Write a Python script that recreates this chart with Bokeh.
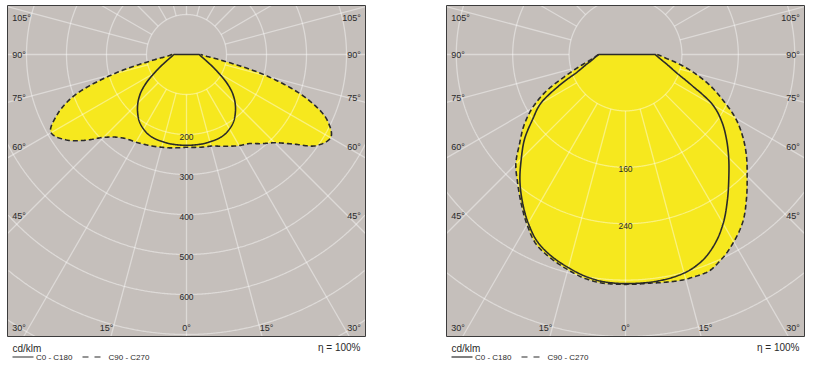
import numpy as np
from bokeh.plotting import figure
from bokeh.models import Range1d
from bokeh.embed import file_html
from bokeh.resources import INLINE
from bokeh.core.properties import value

# ---------------- data (cd/klm) ----------------
GAMMA = list(range(0, 95, 5))  # degrees from nadir

# Panel 1
P1_C0 = [227, 227, 227, 226, 225, 222, 215, 205, 190, 172, 150, 122, 93, 72, 57, 47, 40, 35, 32]
P1_C180 = [227, 227, 227, 226, 225, 222, 215, 205, 190, 172, 150, 122, 93, 72, 57, 47, 40, 35, 32]
P1_C90 = [232, 233, 235, 237, 244, 253, 263, 272, 291, 312, 348, 397, 416, 388, 318, 210, 96, 50, 35]
P1_C270 = [232, 234, 237, 240, 244, 248, 253, 258, 270, 293, 334, 371, 391, 357, 297, 189, 89, 48, 36]
P1_RING_STEP = 100
P1_RING_LABELS = [200, 300, 400, 500, 600]

# Panel 2
P2_C0 = [325, 325, 324, 321, 313, 298, 277, 252, 228, 207, 187, 167, 143, 104, 78, 64, 54, 47, 42]
P2_C180 = [325, 324, 320, 313, 305, 294, 276, 255, 233, 209, 187, 161, 139, 103, 73, 59, 49, 43, 38]
P2_C90 = [326, 326, 328, 330, 330, 321, 307, 290, 267, 244, 224, 203, 180, 152, 127, 101, 77, 57, 45]
P2_C270 = [326, 326, 323, 316, 308, 298, 279, 258, 238, 220, 196, 176, 153, 125, 92, 69, 53, 44, 38]
P2_RING_STEP = 80
P2_RING_LABELS = [160, 240]

ANGLE_TICKS_SIDE = [105, 90, 75, 60, 45, 30]
ANGLE_TICKS_BOTTOM = [15, 0]
UNIT = "cd/klm"
LEG_SOLID = "C0 - C180"
LEG_DASH = "C90 - C270"
ETA = "η = 100%"

# ---------------- style ----------------
GREY = "#c5bfbb"
YELLOW = "#f6e81e"
INK = "#2a2a2a"
FONT = value("Liberation Sans")

W, H = 813, 369
p = figure(width=W, height=H, x_range=Range1d(0, W), y_range=Range1d(H, 0),
           output_backend="svg", toolbar_location=None, min_border=0,
           x_axis_location=None, y_axis_location=None)
p.grid.visible = False
p.outline_line_color = None
p.background_fill_color = "white"
p.border_fill_color = "white"


def pchip(x, y, xn):
    x = np.asarray(x, float); y = np.asarray(y, float)
    h = np.diff(x); delta = np.diff(y) / h
    n = len(x); d = np.zeros(n)
    for k in range(1, n - 1):
        if delta[k - 1] * delta[k] > 0:
            w1 = 2 * h[k] + h[k - 1]; w2 = h[k] + 2 * h[k - 1]
            d[k] = (w1 + w2) / (w1 / delta[k - 1] + w2 / delta[k])
    d[0] = delta[0]; d[-1] = delta[-1]
    idx = np.clip(np.searchsorted(x, xn) - 1, 0, n - 2)
    t = (xn - x[idx]) / h[idx]
    h00 = 2 * t**3 - 3 * t**2 + 1; h10 = t**3 - 2 * t**2 + t
    h01 = -2 * t**3 + 3 * t**2; h11 = t**3 - t**2
    return h00 * y[idx] + h10 * h[idx] * d[idx] + h01 * y[idx + 1] + h11 * h[idx] * d[idx + 1]


def curve(cx, cy, scale, left_vals, right_vals):
    g = np.array(GAMMA, float)
    sg = np.concatenate([-g[::-1], g[1:]])
    rv = np.concatenate([np.array(left_vals, float)[::-1], np.array(right_vals, float)[1:]])
    gn = np.linspace(-90, 90, 721)
    r = pchip(sg, rv, gn) * scale
    a = np.radians(gn)
    return cx + r * np.sin(a), cy + r * np.cos(a)


def draw_panel(ox, scale, step, ring_labels, right_solid, left_solid, right_dash, left_dash):
    x0, x1, y0, y1 = ox + 7.0, ox + 365.0, 5.0, 336.0
    cx, cy = ox + 186.0, 54.0
    p.quad(left=[x0], right=[x1], top=[y0], bottom=[y1], fill_color=GREY, line_color=None)

    sx, sy = curve(cx, cy, scale, left_solid, right_solid)
    dx, dy = curve(cx, cy, scale, left_dash, right_dash)
    p.patch(dx, dy, fill_color=YELLOW, line_color=None)
    p.patch(sx, sy, fill_color=YELLOW, line_color=None)

    # grid circles, clipped to the box
    rmax = np.hypot(max(cx - x0, x1 - cx), max(cy - y0, y1 - cy)) / scale
    th = np.linspace(0, 2 * np.pi, 1441)
    for rv in np.arange(step, rmax + step, step):
        gx = cx + rv * scale * np.sin(th)
        gy = cy + rv * scale * np.cos(th)
        m = (gx < x0) | (gx > x1) | (gy < y0) | (gy > y1)
        gx[m] = np.nan
        gy[m] = np.nan
        p.line(gx, gy, line_color="white", line_alpha=0.42, line_width=1.3)
    # spokes every 15 deg from first ring to box edge
    sx0, sy0, sx1, sy1 = [], [], [], []
    for a in range(0, 360, 15):
        ar = np.radians(a)
        ux, uy = np.sin(ar), np.cos(ar)
        ts = []
        if ux > 1e-9: ts.append((x1 - cx) / ux)
        if ux < -1e-9: ts.append((x0 - cx) / ux)
        if uy > 1e-9: ts.append((y1 - cy) / uy)
        if uy < -1e-9: ts.append((y0 - cy) / uy)
        t = min(ts)
        r0 = step * scale
        sx0.append(cx + r0 * ux); sy0.append(cy + r0 * uy)
        sx1.append(cx + t * ux); sy1.append(cy + t * uy)
    p.segment(sx0, sy0, sx1, sy1, line_color="white", line_alpha=0.42, line_width=1.3)

    # curves
    p.line(dx, dy, line_color=INK, line_width=1.6, line_dash="5 3")
    p.line(np.append(sx, sx[0]), np.append(sy, sy[0]), line_color=INK, line_width=1.6)

    # ring labels
    p.text([cx] * len(ring_labels), [cy + v * scale + 2 for v in ring_labels],
           text=[str(v) for v in ring_labels], text_align="center", text_baseline="middle",
           text_font=FONT, text_font_size="8.5px", text_color=INK)

    # angle labels on side edges
    ytop, ybot = y0 + 12, y1 - 9
    ly, lt = [], []
    for a in ANGLE_TICKS_SIDE:
        ar = np.radians(a)
        t = (cx - (x0 + 18)) / np.sin(ar)
        ly.append(min(max(cy + t * np.cos(ar), ytop), ybot))
        lt.append(f"{a}°")
    p.text([x0 + 4.7] * len(ly), ly, text=lt, text_align="left", text_baseline="middle",
           text_font=FONT, text_font_size="9px", text_color=INK)
    p.text([x1 - 4.7] * len(ly), ly, text=lt, text_align="right", text_baseline="middle",
           text_font=FONT, text_font_size="9px", text_color=INK)
    # bottom labels
    for a in ANGLE_TICKS_BOTTOM:
        ar = np.radians(a)
        t = (ybot - cy) / np.cos(ar)
        off = t * np.sin(ar)
        if a == 0:
            p.text([cx], [ybot], text=[f"{a}°"], text_align="center", text_baseline="middle",
                   text_font=FONT, text_font_size="9px", text_color=INK)
        else:
            p.text([cx - off], [ybot], text=[f"{a}°"], text_align="right", text_baseline="middle",
                   text_font=FONT, text_font_size="9px", text_color=INK)
            p.text([cx + off], [ybot], text=[f"{a}°"], text_align="left", text_baseline="middle",
                   text_font=FONT, text_font_size="9px", text_color=INK)

    # border
    p.quad(left=[x0], right=[x1], top=[y0], bottom=[y1], fill_color=None, line_color="#3c3c3c", line_width=1)

    # legend
    p.text([x0 + 5], [y1 + 12], text=[UNIT], text_align="left", text_baseline="middle",
           text_font=FONT, text_font_size="10px", text_color=INK)
    p.segment([x0 + 5], [y1 + 20.5], [x0 + 26], [y1 + 20.5], line_color=INK, line_width=1.2)
    p.text([x0 + 28.5], [y1 + 20.5], text=[LEG_SOLID], text_align="left", text_baseline="middle",
           text_font=FONT, text_font_size="8px", text_color=INK)
    p.segment([x0 + 75], [y1 + 20.5], [x0 + 93.5], [y1 + 20.5], line_color=INK, line_width=1.2,
              line_dash="6 6")
    p.text([x0 + 101], [y1 + 20.5], text=[LEG_DASH], text_align="left", text_baseline="middle",
           text_font=FONT, text_font_size="8px", text_color=INK)
    p.text([x1 - 5], [y1 + 11], text=[ETA], text_align="right", text_baseline="middle",
           text_font=FONT, text_font_size="10px", text_color=INK)


draw_panel(0, 0.4, P1_RING_STEP, P1_RING_LABELS, P1_C0, P1_C180, P1_C90, P1_C270)
draw_panel(439, 0.705, P2_RING_STEP, P2_RING_LABELS, P2_C0, P2_C180, P2_C90, P2_C270)

open("out.html", "w").write(file_html(p, INLINE))
